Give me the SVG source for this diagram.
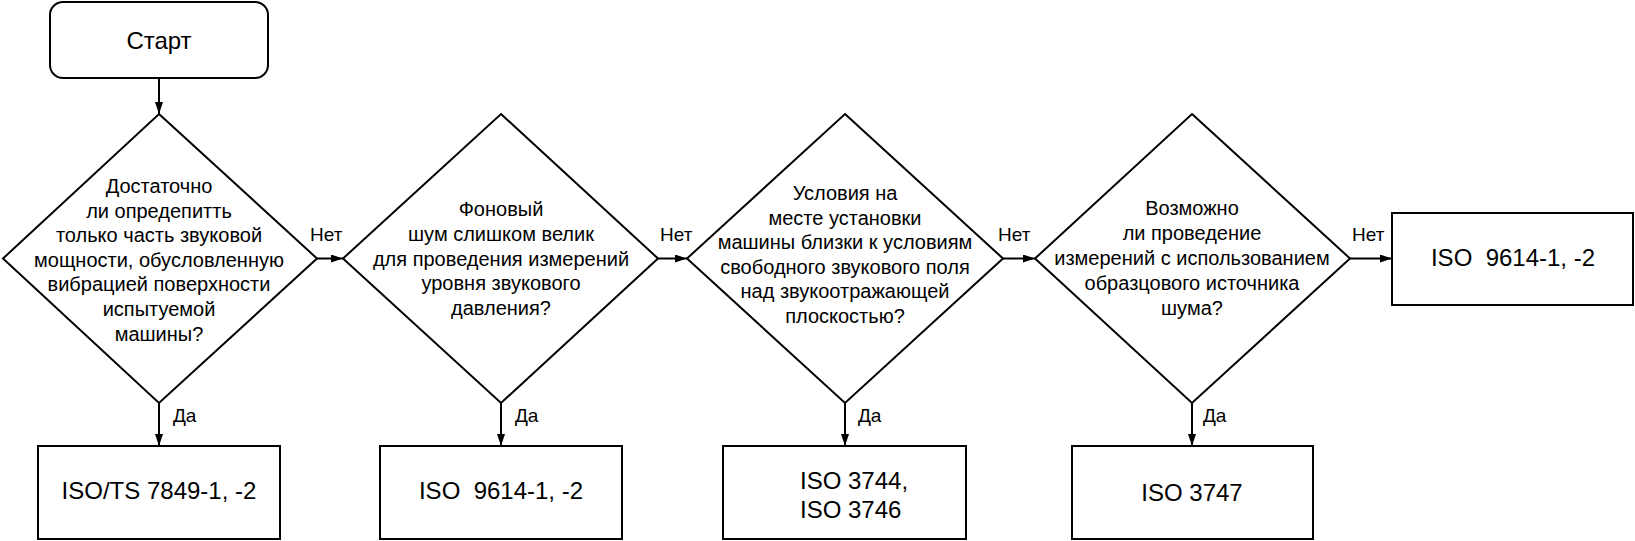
<svg xmlns="http://www.w3.org/2000/svg" width="1635" height="541" viewBox="0 0 1635 541">
<defs>
<style>
.shape{fill:#fff;stroke:#000;stroke-width:2}
.conn{fill:none;stroke:#000;stroke-width:2}
text{font-family:"Liberation Sans",Arial,sans-serif;fill:#000}
.q{font-size:20px;text-anchor:middle}
.b{font-size:24px;text-anchor:middle}
.lbl{font-size:19px}
</style>
<marker id="ah" viewBox="0 0 12 8" refX="12" refY="4" markerWidth="12" markerHeight="8" markerUnits="userSpaceOnUse" orient="auto">
<path d="M0,0 L12,4 L0,8 Z" fill="#000"/>
</marker>
</defs>
<rect width="1635" height="541" fill="#fff"/>
<g id="connectors">
<line class="conn" x1="159" y1="78" x2="159" y2="114" marker-end="url(#ah)"/>
<line class="conn" x1="159" y1="403" x2="159" y2="446" marker-end="url(#ah)"/>
<line class="conn" x1="501" y1="403" x2="501" y2="446" marker-end="url(#ah)"/>
<line class="conn" x1="845" y1="403" x2="845" y2="446" marker-end="url(#ah)"/>
<line class="conn" x1="1192" y1="403" x2="1192" y2="446" marker-end="url(#ah)"/>
<line class="conn" x1="317" y1="258.5" x2="343" y2="258.5" marker-end="url(#ah)"/>
<line class="conn" x1="658" y1="258.5" x2="687" y2="258.5" marker-end="url(#ah)"/>
<line class="conn" x1="1003" y1="258.5" x2="1035" y2="258.5" marker-end="url(#ah)"/>
<line class="conn" x1="1350" y1="258.5" x2="1392" y2="258.5" marker-end="url(#ah)"/>
<text class="lbl" x="310" y="241">Нет</text>
<text class="lbl" x="660" y="241">Нет</text>
<text class="lbl" x="998" y="241">Нет</text>
<text class="lbl" x="1352" y="241">Нет</text>
<text class="lbl" x="173" y="422">Да</text>
<text class="lbl" x="515" y="422">Да</text>
<text class="lbl" x="858" y="422">Да</text>
<text class="lbl" x="1203" y="422">Да</text>
</g>
<g id="start">
<rect class="shape" x="50" y="2" width="218" height="76" rx="13"/>
<text class="b" x="159" y="49">Старт</text>
</g>
<g id="q1">
<polygon class="shape" points="159,114 317,258.5 159,403 3,258.5"/>
<text class="q" x="159" y="193">Достаточно</text>
<text class="q" x="159" y="217.6">ли опредепитть</text>
<text class="q" x="159" y="242.2">только часть звуковой</text>
<text class="q" x="159" y="266.8">мощности, обусловленную</text>
<text class="q" x="159" y="291.4">вибрацией поверхности</text>
<text class="q" x="159" y="316">испытуемой</text>
<text class="q" x="159" y="340.6">машины?</text>
</g>
<g id="q2">
<polygon class="shape" points="501,114 658,258.5 501,403 343,258.5"/>
<text class="q" x="501" y="216">Фоновый</text>
<text class="q" x="501" y="240.8">шум слишком велик</text>
<text class="q" x="501" y="265.6">для проведения измерений</text>
<text class="q" x="501" y="290.4">уровня звукового</text>
<text class="q" x="501" y="315.2">давления?</text>
</g>
<g id="q3">
<polygon class="shape" points="845,114 1003,258.5 845,403 687,258.5"/>
<text class="q" x="845" y="200">Условия на</text>
<text class="q" x="845" y="224.6">месте установки</text>
<text class="q" x="845" y="249.2">машины близки к условиям</text>
<text class="q" x="845" y="273.8">свободного звукового поля</text>
<text class="q" x="845" y="298.4">над звукоотражающей</text>
<text class="q" x="845" y="323">плоскостью?</text>
</g>
<g id="q4">
<polygon class="shape" points="1192,114 1350,258.5 1192,403 1035,258.5"/>
<text class="q" x="1192" y="214.5">Возможно</text>
<text class="q" x="1192" y="239.5">ли проведение</text>
<text class="q" x="1192" y="264.5">измерений с использованием</text>
<text class="q" x="1192" y="289.5">образцового источника</text>
<text class="q" x="1192" y="314.5">шума?</text>
</g>
<g id="r1">
<rect class="shape" x="38" y="446" width="242" height="93"/>
<text class="b" x="159" y="499">ISO/TS 7849-1, -2</text>
</g>
<g id="r2">
<rect class="shape" x="380" y="446" width="242" height="93"/>
<text class="b" x="501" y="499" xml:space="preserve">ISO  9614-1, -2</text>
</g>
<g id="r3">
<rect class="shape" x="723" y="446" width="243" height="93"/>
<text class="b" x="800" y="489" style="text-anchor:start">ISO 3744,</text>
<text class="b" x="800" y="518" style="text-anchor:start">ISO 3746</text>
</g>
<g id="r4">
<rect class="shape" x="1072" y="446" width="241" height="93"/>
<text class="b" x="1192" y="501">ISO 3747</text>
</g>
<g id="r5">
<rect class="shape" x="1392" y="213" width="241" height="92"/>
<text class="b" x="1513" y="266" xml:space="preserve">ISO  9614-1, -2</text>
</g>
</svg>
